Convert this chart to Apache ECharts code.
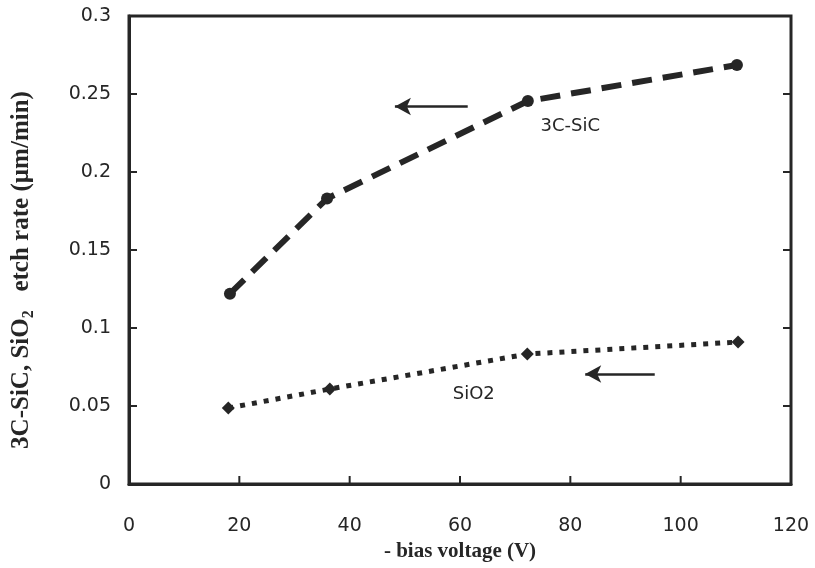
<!DOCTYPE html>
<html>
<head>
<meta charset="utf-8">
<script src="https://cdn.jsdelivr.net/npm/echarts@6/dist/echarts.min.js"></script>
<style>
html,body{margin:0;padding:0;background:#fff;}
#chart{width:815px;height:568px;}
</style>
</head>
<body>
<div id="chart"></div>
<script>
// ---- data ----
const sicVoltage = [18.3, 35.9, 72.3, 110.2];
const sicRate    = [0.122, 0.183, 0.2455, 0.2686];
const sio2Voltage = [18.0, 36.4, 72.2, 110.4];
const sio2Rate    = [0.0487, 0.0609, 0.0833, 0.091];
const xTicks = [0, 20, 40, 60, 80, 100, 120];
const yTicks = [0, 0.05, 0.1, 0.15, 0.2, 0.25, 0.3];
// annotation positions (data space)
const sicArrow = [[61.4, 0.242], [48.2, 0.242]];
const sio2Arrow = [[95.3, 0.0705], [82.7, 0.0705]];
const sicLabelPos = [80, 0.229];
const sio2LabelPos = [62.5, 0.0577];

const ink = '#262626';
const tickFont = 'DejaVu Sans';
const titleFont = 'Liberation Serif';
const tickLen = 8;

const chart = echarts.init(document.getElementById('chart'), null, {renderer: 'canvas'});

function pairs(xs, ys){ return xs.map((x, i) => [x, ys[i]]); }

const xMin = xTicks[0], xMax = xTicks[xTicks.length-1];
const yMin = yTicks[0], yMax = yTicks[yTicks.length-1];

// inward tick marks drawn at the axis scale positions
function tickSeries(points, dx, dy){
  return {
    type: 'custom', silent: true, clip: false, z: 5,
    data: points,
    renderItem: (params, api) => {
      const pt = api.coord([api.value(0), api.value(1)]);
      return {type: 'line', shape: {x1: pt[0], y1: pt[1], x2: pt[0] + dx, y2: pt[1] + dy},
              style: {stroke: ink, lineWidth: 2}};
    }
  };
}
const innerY = yTicks.slice(1, -1);
const innerX = xTicks.slice(1, -1);

const option = {
  backgroundColor: '#fff',
  animation: false,
  grid: {left: 129, right: 24, top: 16, bottom: 84, show: true, borderColor: ink, borderWidth: 3, backgroundColor: 'transparent'},
  xAxis: [{
    type: 'value', min: xMin, max: xMax, interval: 20,
    axisLine: {show: true, onZero: false, lineStyle: {color: ink, width: 3}},
    axisTick: {show: false},
    splitLine: {show: false},
    axisLabel: {color: ink, fontFamily: tickFont, fontSize: 19, margin: 33},
    name: '- bias voltage (V)', nameLocation: 'middle', nameGap: 55,
    nameTextStyle: {color: ink, fontFamily: titleFont, fontWeight: 'bold', fontSize: 21}
  }],
  yAxis: [{
    type: 'value', min: yMin, max: yMax, interval: 0.05,
    axisLine: {show: true, onZero: false, lineStyle: {color: ink, width: 3}},
    axisTick: {show: false},
    splitLine: {show: false},
    axisLabel: {color: ink, fontFamily: tickFont, fontSize: 19, margin: 18,
      formatter: v => String(+v.toFixed(2))},
    name: '3C-SiC, SiO{sub|2}   etch rate (\u00b5m/min)', nameLocation: 'middle', nameGap: 92,
    nameTextStyle: {color: ink, fontFamily: titleFont, fontWeight: 'bold', fontSize: 25, padding: [0, 40, 0, 0],
      rich: {sub: {fontFamily: titleFont, fontWeight: 'bold', fontSize: 16, verticalAlign: 'bottom', padding: [14,0,0,0], color: ink}}}
  }],
  series: [{
    name: '3C-SiC', type: 'line', data: pairs(sicVoltage, sicRate),
    symbol: 'circle', symbolSize: 12,
    itemStyle: {color: ink},
    lineStyle: {color: ink, width: 6, type: [20, 11]},
    markLine: {
      silent: true, symbol: ['none', 'arrow'], symbolSize: [13, 16],
      lineStyle: {color: ink, width: 2.5, type: 'solid'}, label: {show: false},
      data: [[{coord: sicArrow[0]}, {coord: sicArrow[1]}]]
    },
    markPoint: {
      symbol: 'circle', symbolSize: 0,
      label: {show: true, formatter: '3C-SiC', color: ink, fontFamily: tickFont, fontSize: 18},
      data: [{coord: sicLabelPos}]
    }
  }, {
    name: 'SiO2', type: 'line', data: pairs(sio2Voltage, sio2Rate),
    symbol: 'diamond', symbolSize: 13,
    itemStyle: {color: ink},
    lineStyle: {color: ink, width: 5, type: [5, 7]},
    markLine: {
      silent: true, symbol: ['none', 'arrow'], symbolSize: [13, 16],
      lineStyle: {color: ink, width: 2.5, type: 'solid'}, label: {show: false},
      data: [[{coord: sio2Arrow[0]}, {coord: sio2Arrow[1]}]]
    },
    markPoint: {
      symbol: 'circle', symbolSize: 0,
      label: {show: true, formatter: 'SiO2', color: ink, fontFamily: tickFont, fontSize: 18},
      data: [{coord: sio2LabelPos}]
    }
  },
  tickSeries(innerY.map(v => [xMin, v]), tickLen, 0),
  tickSeries(innerY.map(v => [xMax, v]), -tickLen, 0),
  tickSeries(innerX.map(v => [v, yMin]), 0, -tickLen)
  ]
};
chart.setOption(option);
</script>
</body>
</html>
